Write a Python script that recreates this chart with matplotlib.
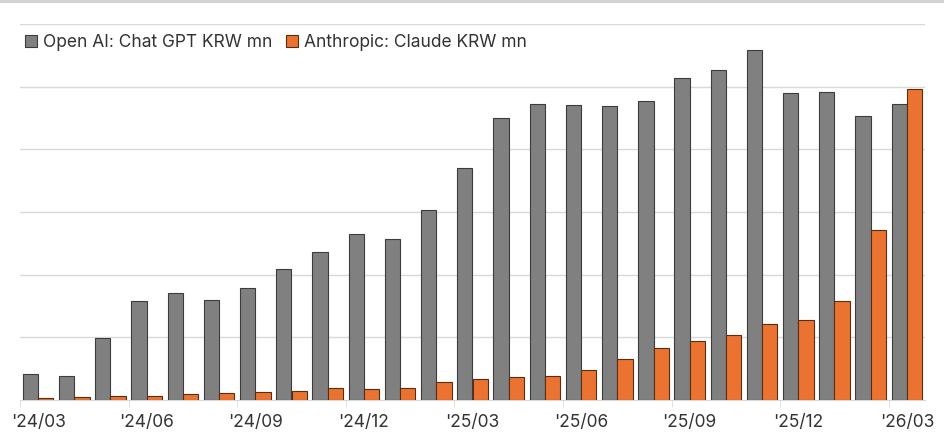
import numpy as np
import matplotlib.pyplot as plt
from matplotlib.lines import Line2D

plt.rcParams['font.family'] = ['Inter', 'DejaVu Sans']

# months '24/03 .. '26/03
months = ["'24/03", "'24/04", "'24/05", "'24/06", "'24/07", "'24/08", "'24/09",
          "'24/10", "'24/11", "'24/12", "'25/01", "'25/02", "'25/03", "'25/04",
          "'25/05", "'25/06", "'25/07", "'25/08", "'25/09", "'25/10", "'25/11",
          "'25/12", "'26/01", "'26/02", "'26/03"]

chatgpt = [41, 38, 99, 158, 171, 159, 179, 209, 236, 265, 257, 303, 370,
           450, 472, 470, 469, 477, 514, 526, 558, 490, 491, 453, 472]
claude = [3, 4, 6, 6, 10, 11, 13, 14, 19, 18, 19, 29, 33,
          37, 38, 48, 65, 83, 94, 104, 121, 128, 158, 271, 496]

labels = ["Open AI: Chat GPT KRW mn", "Anthropic: Claude KRW mn"]
gray = '#808080'
orange = '#EB7332'

fig = plt.figure(figsize=(9.45, 4.44), dpi=100)
ax = fig.add_axes([20/945, 44/444, 905/945, 376/444])

x = np.arange(len(months))
w = 0.42
ax.bar(x - w/2, chatgpt, w, color=gray, edgecolor='#3c3c3c', linewidth=0.8,
       label=labels[0], zorder=3)
ax.bar(x + w/2, claude, w, color=orange, edgecolor='#5a2c12', linewidth=0.8,
       label=labels[1], zorder=3)

ax.set_xlim(-0.5, len(months) - 0.5)
ax.set_ylim(0, 600)
ax.set_yticks(np.arange(100, 601, 100))
ax.yaxis.grid(True, color='#d9d9d9', linewidth=1)
ax.tick_params(axis='y', left=False, labelleft=False)

for s in ['top', 'right', 'left']:
    ax.spines[s].set_visible(False)
ax.spines['bottom'].set_color('#d9d9d9')

# labels every quarter, ticks at group boundaries
ax.set_xticks(x[::3])
ax.set_xticklabels(months[::3], fontsize=12.5, color='#333333')
ax.tick_params(axis='x', which='major', length=0, pad=10)
ax.set_xticks(x[::3] - 0.5, minor=True)
ax.tick_params(axis='x', which='minor', length=5, color='#d9d9d9')

handles = [plt.Rectangle((0, 0), 1, 1, facecolor=gray, edgecolor='#3c3c3c', lw=0.8),
           plt.Rectangle((0, 0), 1, 1, facecolor=orange, edgecolor='#5a2c12', lw=0.8)]
ax.legend(handles, labels, loc='upper left', ncol=2, frameon=False,
          fontsize=12.5, handlelength=0.7, handleheight=0.7, handletextpad=0.35,
          columnspacing=0.75, bbox_to_anchor=(-0.006, 1.0), borderaxespad=0.2,
          labelcolor='#333333')

fig.add_artist(Line2D([0, 1], [0.998, 0.998], transform=fig.transFigure,
                      color='#d0d0d0', linewidth=2))

fig.savefig('out.png', dpi=100)
